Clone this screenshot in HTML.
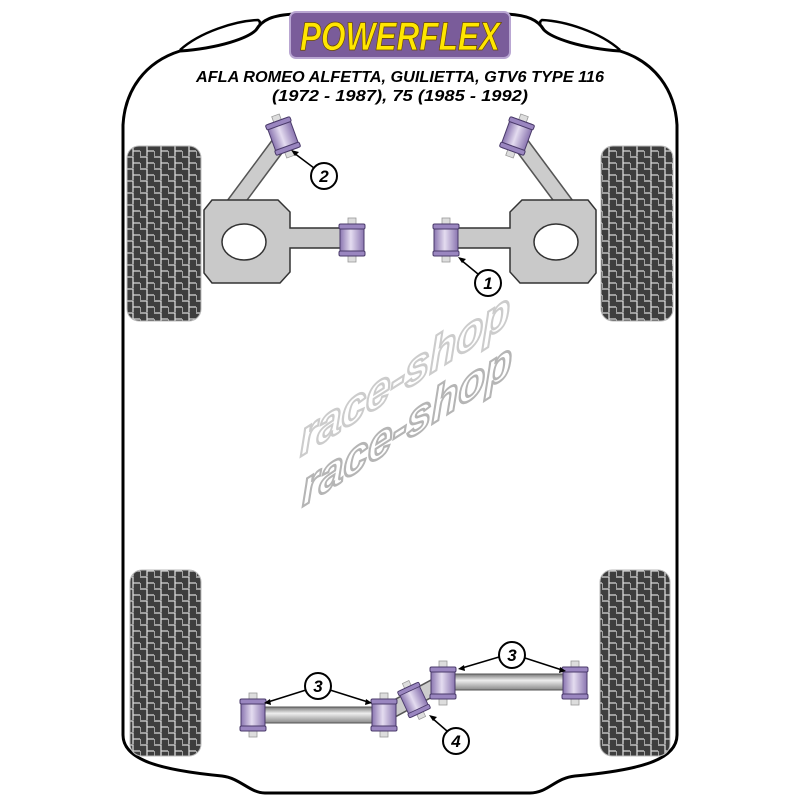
<!DOCTYPE html>
<html><head><style>html,body{margin:0;padding:0;background:#fff;width:800px;height:800px;overflow:hidden}</style></head>
<body>
<svg width="800" height="800" viewBox="0 0 800 800" xmlns="http://www.w3.org/2000/svg">
<defs>
<pattern id="tread" width="14" height="12" patternUnits="userSpaceOnUse">
<rect width="14" height="12" fill="#3e3e3e"/>
<path d="M0 1 H7 V7 H14 M7 7 V12 M0 7 V12" stroke="#d8d8d8" stroke-width="1.3" fill="none"/>
</pattern>
<linearGradient id="bar" x1="0" y1="0" x2="0" y2="1"><stop offset="0" stop-color="#777"/><stop offset="0.4" stop-color="#eee"/><stop offset="1" stop-color="#888"/></linearGradient>
<linearGradient id="bush" x1="0" y1="0" x2="1" y2="0"><stop offset="0" stop-color="#8a75b0"/><stop offset="0.45" stop-color="#e4dcf0"/><stop offset="1" stop-color="#8a75b0"/></linearGradient>
<g id="bsh">
<rect x="-4" y="-22" width="8" height="44" fill="#ddd" stroke="#999" stroke-width="0.8"/>
<rect x="-12" y="-16" width="24" height="32" rx="2" fill="url(#bush)" stroke="#4a3a6a" stroke-width="1"/>
<rect x="-13" y="-16" width="26" height="5" rx="1.5" fill="#9a86c0" stroke="#4a3a6a" stroke-width="1"/>
<rect x="-13" y="11" width="26" height="5" rx="1.5" fill="#9a86c0" stroke="#4a3a6a" stroke-width="1"/>
</g>
</defs>

<!-- body outline -->
<path d="M123 735 L123 125 C125 90 145 62 180 51 C220 48 248 38 256 30 C262 20 272 15 295 14 L505 14 C528 15 538 20 544 30 C552 38 580 48 620 51 C655 62 675 90 677 125 L677 735 C677 760 640 770 575 776 C555 778 548 793 530 793 L265 793 C250 793 240 778 222 776 C160 770 123 760 123 735 Z" fill="#fff" stroke="#000" stroke-width="3"/>
<path d="M180 50 C200 32 235 21 258 20 C262 22 259 27 256 30" fill="none" stroke="#000" stroke-width="2.5"/>
<path d="M620 50 C600 32 565 21 542 20 C538 22 541 27 544 30" fill="none" stroke="#000" stroke-width="2.5"/>

<!-- logo -->
<rect x="290" y="12" width="220" height="46" rx="6" fill="#7a5c9a" stroke="#b9a6d2" stroke-width="2"/>
<text x="400" y="50" text-anchor="middle" font-family="Liberation Sans, sans-serif" font-weight="bold" font-style="italic" font-size="40" fill="#ffe600" stroke="#6a4a00" stroke-width="0.8" textLength="200" lengthAdjust="spacingAndGlyphs">POWERFLEX</text>

<text x="400" y="82" text-anchor="middle" font-family="Liberation Sans, sans-serif" font-weight="bold" font-style="italic" font-size="16" textLength="408" lengthAdjust="spacingAndGlyphs">AFLA ROMEO ALFETTA, GUILIETTA, GTV6 TYPE 116</text>
<text x="400" y="101" text-anchor="middle" font-family="Liberation Sans, sans-serif" font-weight="bold" font-style="italic" font-size="16" textLength="256" lengthAdjust="spacingAndGlyphs">(1972 - 1987), 75 (1985 - 1992)</text>

<!-- tires -->
<rect x="127" y="146" width="74" height="175" rx="12" fill="url(#tread)" stroke="#bbb"/>
<rect x="601" y="146" width="72" height="175" rx="12" fill="url(#tread)" stroke="#bbb"/>
<rect x="130" y="570" width="71" height="186" rx="12" fill="url(#tread)" stroke="#bbb"/>
<rect x="600" y="570" width="70" height="186" rx="12" fill="url(#tread)" stroke="#bbb"/>

<!-- front left arm -->
<line x1="230" y1="210" x2="282" y2="140" stroke="#555" stroke-width="17"/>
<line x1="230" y1="210" x2="282" y2="140" stroke="#ccc" stroke-width="14"/>
<path d="M212 200 L278 200 L290 212 L290 228 L343 228 L343 248 L290 248 L290 272 L280 283 L212 283 L204 273 L204 210 Z" fill="#c9c9c9" stroke="#333" stroke-width="1.5"/>
<ellipse cx="244" cy="242" rx="22" ry="18" fill="#fff" stroke="#333" stroke-width="1.5"/>
<use href="#bsh" x="352" y="240"/>
<use href="#bsh" transform="translate(283 136) rotate(-20)"/>

<!-- front right arm -->
<line x1="570" y1="210" x2="518" y2="140" stroke="#555" stroke-width="17"/>
<line x1="570" y1="210" x2="518" y2="140" stroke="#ccc" stroke-width="14"/>
<path d="M588 200 L522 200 L510 212 L510 228 L457 228 L457 248 L510 248 L510 272 L520 283 L588 283 L596 273 L596 210 Z" fill="#c9c9c9" stroke="#333" stroke-width="1.5"/>
<ellipse cx="556" cy="242" rx="22" ry="18" fill="#fff" stroke="#333" stroke-width="1.5"/>
<use href="#bsh" x="446" y="240"/>
<use href="#bsh" transform="translate(517 136) rotate(20)"/>

<!-- watermark -->
<g font-family="Liberation Sans, sans-serif" font-weight="bold" font-style="italic" font-size="48" fill="#fff" stroke-width="2.5">
<text x="0" y="0" stroke="#ccc" transform="translate(300 457) skewY(-32.5)" textLength="210" lengthAdjust="spacingAndGlyphs">race-shop</text>
<text x="0" y="0" stroke="#b5b5b5" transform="translate(302 507) skewY(-32.5)" textLength="210" lengthAdjust="spacingAndGlyphs">race-shop</text>
</g>

<!-- rear -->
<rect x="252" y="707" width="133" height="16" fill="url(#bar)" stroke="#555"/>
<rect x="442" y="674" width="133" height="16" fill="url(#bar)" stroke="#555"/>
<line x1="388" y1="712" x2="440" y2="684" stroke="#555" stroke-width="17"/>
<line x1="388" y1="712" x2="440" y2="684" stroke="#ccc" stroke-width="14"/>
<use href="#bsh" x="253" y="715"/>
<use href="#bsh" x="384" y="715"/>
<use href="#bsh" x="443" y="683"/>
<use href="#bsh" x="575" y="683"/>
<use href="#bsh" transform="translate(414 700) rotate(-25) scale(0.9)"/>

<!-- callouts -->
<g stroke="#000" stroke-width="1.5" fill="none">
<line x1="314" y1="168" x2="294" y2="153"/>
<line x1="478" y1="274" x2="461" y2="260"/>
<line x1="306" y1="690" x2="268" y2="702"/>
<line x1="330" y1="690" x2="368" y2="702"/>
<line x1="499" y1="657" x2="462" y2="668"/>
<line x1="525" y1="658" x2="562" y2="670"/>
<line x1="447" y1="731" x2="432" y2="718"/>
</g>
<g fill="#000">
<polygon points="291,150 299,152 295,156"/>
<polygon points="458,257 466,259 462,263"/>
<polygon points="264,703 270,699 271,705"/>
<polygon points="372,703 366,699 365,705"/>
<polygon points="458,669 464,665 465,671"/>
<polygon points="566,671 560,667 559,673"/>
<polygon points="429,715 437,717 433,721"/>
</g>
<g fill="#fff" stroke="#000" stroke-width="2">
<circle cx="324" cy="176" r="13"/><circle cx="488" cy="283" r="13"/>
<circle cx="318" cy="686" r="13"/><circle cx="512" cy="655" r="13"/>
<circle cx="456" cy="741" r="13"/>
</g>
<g font-family="Liberation Sans, sans-serif" font-weight="bold" font-style="italic" font-size="17" text-anchor="middle">
<text x="324" y="182">2</text><text x="488" y="289">1</text>
<text x="318" y="692">3</text><text x="512" y="661">3</text>
<text x="456" y="747">4</text>
</g>
</svg>
</body></html>
